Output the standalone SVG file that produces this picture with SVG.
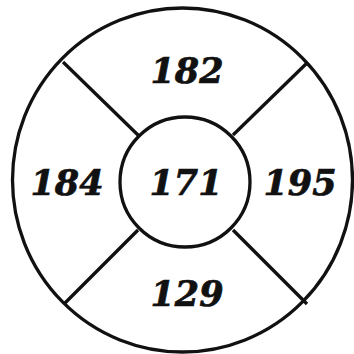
<svg xmlns="http://www.w3.org/2000/svg" width="354" height="354" viewBox="0 0 354 354">
<style>
.s{fill:none;stroke:#111;stroke-width:3.3}
.t{font-family:"DejaVu Serif","Liberation Serif",serif;font-weight:bold;font-style:italic;font-size:35px;fill:#111;stroke:#111;stroke-width:0.7;text-anchor:middle}
</style>
<rect width="354" height="354" fill="#fff"/>
<g id="connectors">
<line class="s" x1="63" y1="62" x2="139" y2="136"/>
<line class="s" x1="307" y1="63" x2="233" y2="135"/>
<line class="s" x1="138" y1="230" x2="65" y2="303"/>
<line class="s" x1="233" y1="230" x2="307" y2="304"/>
</g>
<g id="outer"><ellipse class="s" cx="182.5" cy="180" rx="170" ry="172"/></g>
<g id="center"><circle class="s" cx="185" cy="182" r="65"/><text class="t" x="186" y="195">171</text></g>
<g id="top"><text class="t" x="187" y="83">182</text></g>
<g id="left"><text class="t" x="67" y="195">184</text></g>
<g id="right"><text class="t" x="300" y="195">195</text></g>
<g id="bottom"><text class="t" x="187" y="306">129</text></g>
</svg>
